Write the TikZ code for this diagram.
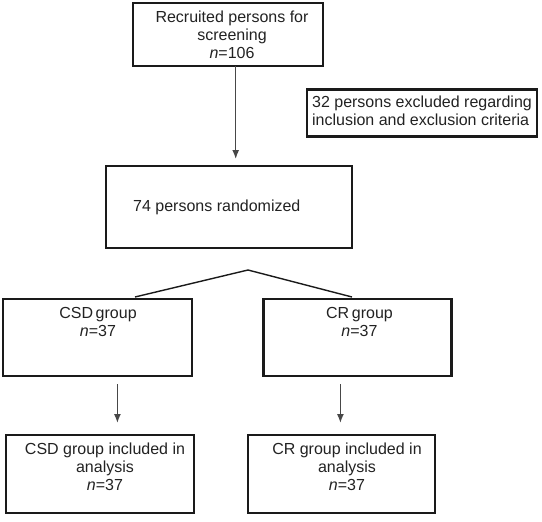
\documentclass[tikz,border=0pt]{standalone}
\usepackage{fontspec}
\setmainfont{Liberation Sans}
\usetikzlibrary{arrows.meta}
\definecolor{boxline}{HTML}{1A1A1A}
\definecolor{arrowgray}{HTML}{474747}
\definecolor{textgray}{HTML}{222222}
\tikzstyle{box}=[draw=boxline, shape=rectangle, line width=2.5pt, inner sep=0pt, outer sep=0pt]
\tikzstyle{txt}=[text=textgray, inner sep=0pt, font=\fontsize{16}{18}\selectfont]
\tikzstyle{link}=[line width=1.4pt, draw=boxline]
\tikzstyle{arrow}=[line width=1.4pt, draw=arrowgray, -{Latex[length=9pt,width=7pt]}]

\begin{document}
\begin{tikzpicture}[x=1pt,y=-1pt]
            \useasboundingbox (0,0) rectangle (542,522);
            \node[box, minimum width=190pt, minimum height=63pt] (recruit) at (228,34.5) {};
            \node[box, minimum width=230pt, minimum height=47pt] (excl) at (422,113) {};
            \node[box, minimum width=246pt, minimum height=82pt] (rand) at (229,207) {};
            \node[box, minimum width=189pt, minimum height=77pt] (csd) at (97.5,337.5) {};
            \node[box, minimum width=188pt, minimum height=77pt] (cr) at (357.5,337.5) {};
            \node[box, minimum width=188pt, minimum height=78pt] (csdan) at (100,474) {};
            \node[box, minimum width=187pt, minimum height=78pt] (cran) at (341.5,474) {};
            \node[txt, align=center] (recruittxt) at (232,35) {Recruited persons for\\screening\\\textit{n}=106};
            \node[txt, align=left] (excltxt) at (422,111) {32 persons excluded regarding\\inclusion and exclusion criteria};
            \node[txt, anchor=west] (randtxt) at (133,207.5) {74 persons randomized};
            \node[txt, align=center] (csdtxt) at (98,322) {CSD\,group\\\textit{n}=37};
            \node[txt, align=center] (crtxt) at (359.5,322) {CR\,group\\\textit{n}=37};
            \node[txt, align=center] (csdantxt) at (105,467) {CSD group included in\\analysis\\\textit{n}=37};
            \node[txt, align=center] (crantxt) at (347,467) {CR group included in\\analysis\\\textit{n}=37};
            \coordinate (split) at (248,270);
            \draw[arrow] ([xshift=7.7pt]recruit.south) -- ([xshift=6.7pt,yshift=7pt]rand.north);
            \draw[link] ([xshift=37.5pt,yshift=2pt]csd.north) -- (split) -- ([xshift=-5.5pt,yshift=2pt]cr.north);
            \draw[arrow] ([xshift=19.9pt,yshift=-8pt]csd.south) -- ([xshift=17.4pt,yshift=12pt]csdan.north);
            \draw[arrow] ([xshift=-17.1pt,yshift=-8pt]cr.south) -- ([xshift=-1.1pt,yshift=12pt]cran.north);
\end{tikzpicture}
\end{document}
